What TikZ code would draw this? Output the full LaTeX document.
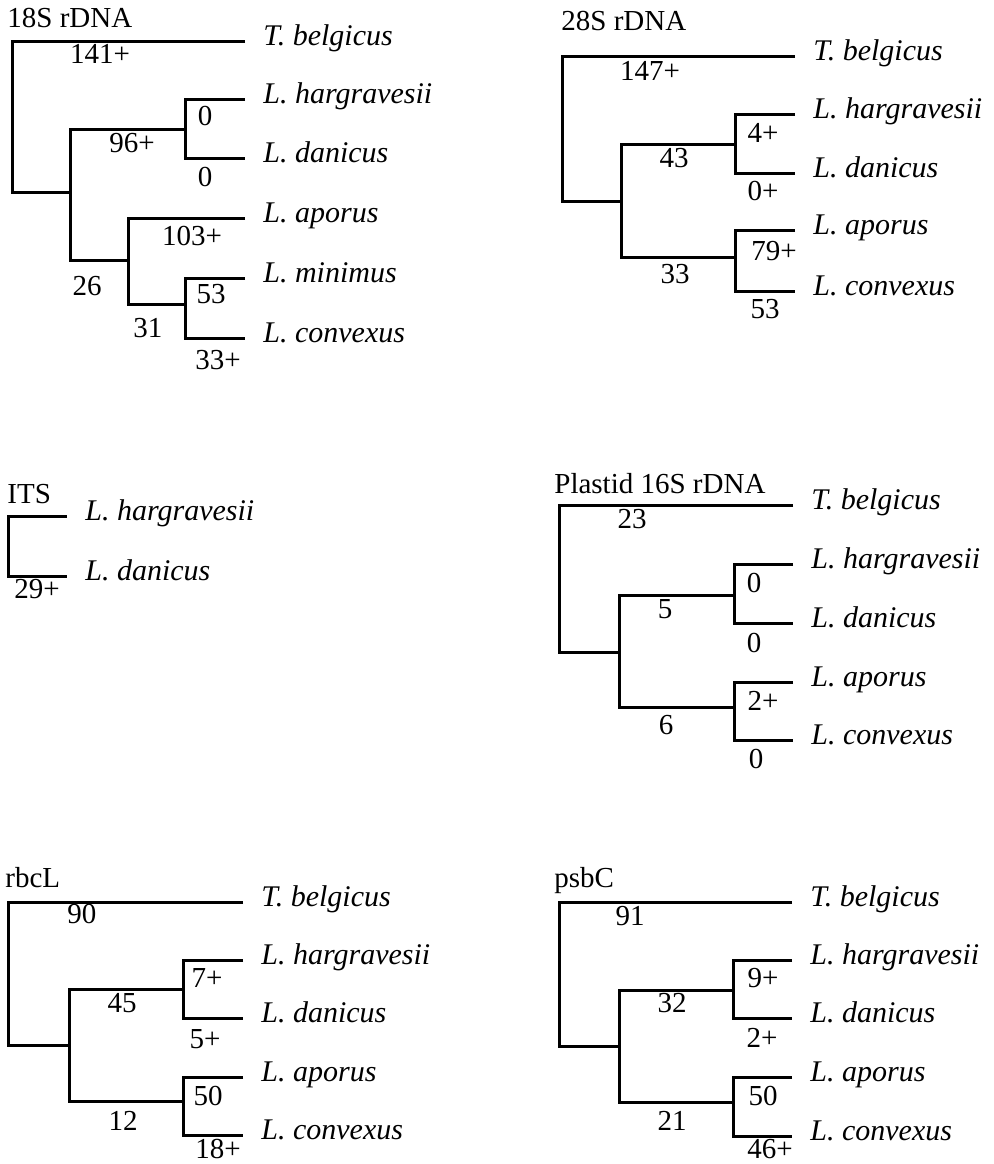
\documentclass[tikz,border=0pt]{standalone}
\usepackage{fontspec}
\setmainfont{Liberation Serif}

\begin{document}
\begin{tikzpicture}[
  x=0.5pt,y=-0.5pt,
  branch/.style={line width=1.5pt},
  taxon/.style={anchor=base west,xshift=9pt,yshift=-2pt,font=\fontsize{15}{17}\selectfont\itshape},
  score/.style={anchor=base},
  gene/.style={anchor=base west},
  every node/.append style={inner sep=0pt,font=\fontsize{14.5}{16}\selectfont}
]
  \useasboundingbox (0,0) rectangle (994,1164);

  \node[gene] (A-title) at (7,27) {18S rDNA};
  \coordinate (Ar) at (12,120);
  \coordinate (Atb) at (245,41);
  \coordinate (An1) at (70,192);
  \coordinate (An2) at (185,129);
  \coordinate (Ah) at (245,99);
  \coordinate (Ad) at (245,158);
  \coordinate (An3) at (128,260);
  \coordinate (Aa) at (245,218);
  \coordinate (An4) at (185,304);
  \coordinate (Am) at (245,278);
  \coordinate (Ac) at (245,338);
  \draw[branch] (Atb) -| (Ar) |- (An1);
  \draw[branch] (An2) -| (An1) |- (An3);
  \draw[branch] (Ah) -| (An2) |- (Ad);
  \draw[branch] (Aa) -| (An3) |- (An4);
  \draw[branch] (Am) -| (An4) |- (Ac);
  \node[taxon] (Atb-lab) at (Atb) {T. belgicus};
  \node[taxon] (Ah-lab) at (Ah) {L. hargravesii};
  \node[taxon] (Ad-lab) at (Ad) {L. danicus};
  \node[taxon] (Aa-lab) at (Aa) {L. aporus};
  \node[taxon] (Am-lab) at (Am) {L. minimus};
  \node[taxon] (Ac-lab) at (Ac) {L. convexus};
  \node[score] (A-s1) at (100,63) {141+};
  \node[score] (A-s2) at (132,152) {96+};
  \node[score] (A-s3) at (205,125) {0};
  \node[score] (A-s4) at (205,186) {0};
  \node[score] (A-s5) at (192,245) {103+};
  \node[score] (A-s6) at (87,295) {26};
  \node[score] (A-s7) at (211,303) {53};
  \node[score] (A-s8) at (148,337) {31};
  \node[score] (A-s9) at (218,369) {33+};

  \node[gene] (B-title) at (561,30) {28S rDNA};
  \coordinate (Br) at (562,130);
  \coordinate (Btb) at (795,56);
  \coordinate (Bn1) at (621,201);
  \coordinate (Bn2) at (735,144);
  \coordinate (Bh) at (795,114);
  \coordinate (Bd) at (795,173);
  \coordinate (Bn3) at (735,257);
  \coordinate (Ba) at (795,230);
  \coordinate (Bc) at (795,291);
  \draw[branch] (Btb) -| (Br) |- (Bn1);
  \draw[branch] (Bn2) -| (Bn1) |- (Bn3);
  \draw[branch] (Bh) -| (Bn2) |- (Bd);
  \draw[branch] (Ba) -| (Bn3) |- (Bc);
  \node[taxon] (Btb-lab) at (Btb) {T. belgicus};
  \node[taxon] (Bh-lab) at (Bh) {L. hargravesii};
  \node[taxon] (Bd-lab) at (Bd) {L. danicus};
  \node[taxon] (Ba-lab) at (Ba) {L. aporus};
  \node[taxon] (Bc-lab) at (Bc) {L. convexus};
  \node[score] (B-s1) at (650,80) {147+};
  \node[score] (B-s2) at (763,142) {4+};
  \node[score] (B-s3) at (674,167) {43};
  \node[score] (B-s4) at (763,200) {0+};
  \node[score] (B-s5) at (774,260) {79+};
  \node[score] (B-s6) at (675,283) {33};
  \node[score] (B-s7) at (765,318) {53};

  \node[gene] (C-title) at (7,503) {ITS};
  \coordinate (Cr) at (8,546);
  \coordinate (Ch) at (67,516);
  \coordinate (Cd) at (67,576);
  \draw[branch] (Ch) -| (Cr) |- (Cd);
  \node[taxon] (Ch-lab) at (Ch) {L. hargravesii};
  \node[taxon] (Cd-lab) at (Cd) {L. danicus};
  \node[score] (C-s1) at (37,598) {29+};

  \node[gene] (D-title) at (554,493) {Plastid 16S rDNA};
  \coordinate (Dr) at (559,580);
  \coordinate (Dtb) at (793,505);
  \coordinate (Dn1) at (619,652);
  \coordinate (Dn2) at (734,595);
  \coordinate (Dh) at (793,564);
  \coordinate (Dd) at (793,623);
  \coordinate (Dn3) at (734,707);
  \coordinate (Da) at (793,682);
  \coordinate (Dc) at (793,740);
  \draw[branch] (Dtb) -| (Dr) |- (Dn1);
  \draw[branch] (Dn2) -| (Dn1) |- (Dn3);
  \draw[branch] (Dh) -| (Dn2) |- (Dd);
  \draw[branch] (Da) -| (Dn3) |- (Dc);
  \node[taxon] (Dtb-lab) at (Dtb) {T. belgicus};
  \node[taxon] (Dh-lab) at (Dh) {L. hargravesii};
  \node[taxon] (Dd-lab) at (Dd) {L. danicus};
  \node[taxon] (Da-lab) at (Da) {L. aporus};
  \node[taxon] (Dc-lab) at (Dc) {L. convexus};
  \node[score] (D-s1) at (632,528) {23};
  \node[score] (D-s2) at (754,592) {0};
  \node[score] (D-s3) at (665,618) {5};
  \node[score] (D-s4) at (754,652) {0};
  \node[score] (D-s5) at (763,710) {2+};
  \node[score] (D-s6) at (666,734) {6};
  \node[score] (D-s7) at (756,768) {0};

  \node[gene] (E-title) at (5,887) {rbcL};
  \coordinate (Er) at (8,970);
  \coordinate (Etb) at (243,902);
  \coordinate (En1) at (69,1045);
  \coordinate (En2) at (183,989);
  \coordinate (Eh) at (243,960);
  \coordinate (Ed) at (243,1018);
  \coordinate (En3) at (183,1101);
  \coordinate (Ea) at (243,1077);
  \coordinate (Ec) at (243,1135);
  \draw[branch] (Etb) -| (Er) |- (En1);
  \draw[branch] (En2) -| (En1) |- (En3);
  \draw[branch] (Eh) -| (En2) |- (Ed);
  \draw[branch] (Ea) -| (En3) |- (Ec);
  \node[taxon] (Etb-lab) at (Etb) {T. belgicus};
  \node[taxon] (Eh-lab) at (Eh) {L. hargravesii};
  \node[taxon] (Ed-lab) at (Ed) {L. danicus};
  \node[taxon] (Ea-lab) at (Ea) {L. aporus};
  \node[taxon] (Ec-lab) at (Ec) {L. convexus};
  \node[score] (E-s1) at (82,923) {90};
  \node[score] (E-s2) at (207,987) {7+};
  \node[score] (E-s3) at (122,1012) {45};
  \node[score] (E-s4) at (205,1048) {5+};
  \node[score] (E-s5) at (208,1105) {50};
  \node[score] (E-s6) at (123,1130) {12};
  \node[score] (E-s7) at (218,1158) {18+};

  \node[gene] (F-title) at (554,887) {psbC};
  \coordinate (Fr) at (559,970);
  \coordinate (Ftb) at (792,902);
  \coordinate (Fn1) at (619,1046);
  \coordinate (Fn2) at (733,990);
  \coordinate (Fh) at (792,960);
  \coordinate (Fd) at (792,1018);
  \coordinate (Fn3) at (733,1102);
  \coordinate (Fa) at (792,1077);
  \coordinate (Fc) at (792,1136);
  \draw[branch] (Ftb) -| (Fr) |- (Fn1);
  \draw[branch] (Fn2) -| (Fn1) |- (Fn3);
  \draw[branch] (Fh) -| (Fn2) |- (Fd);
  \draw[branch] (Fa) -| (Fn3) |- (Fc);
  \node[taxon] (Ftb-lab) at (Ftb) {T. belgicus};
  \node[taxon] (Fh-lab) at (Fh) {L. hargravesii};
  \node[taxon] (Fd-lab) at (Fd) {L. danicus};
  \node[taxon] (Fa-lab) at (Fa) {L. aporus};
  \node[taxon] (Fc-lab) at (Fc) {L. convexus};
  \node[score] (F-s1) at (630,925) {91};
  \node[score] (F-s2) at (763,987) {9+};
  \node[score] (F-s3) at (672,1012) {32};
  \node[score] (F-s4) at (762,1047) {2+};
  \node[score] (F-s5) at (763,1105) {50};
  \node[score] (F-s6) at (672,1130) {21};
  \node[score] (F-s7) at (770,1158) {46+};
\end{tikzpicture}
\end{document}
